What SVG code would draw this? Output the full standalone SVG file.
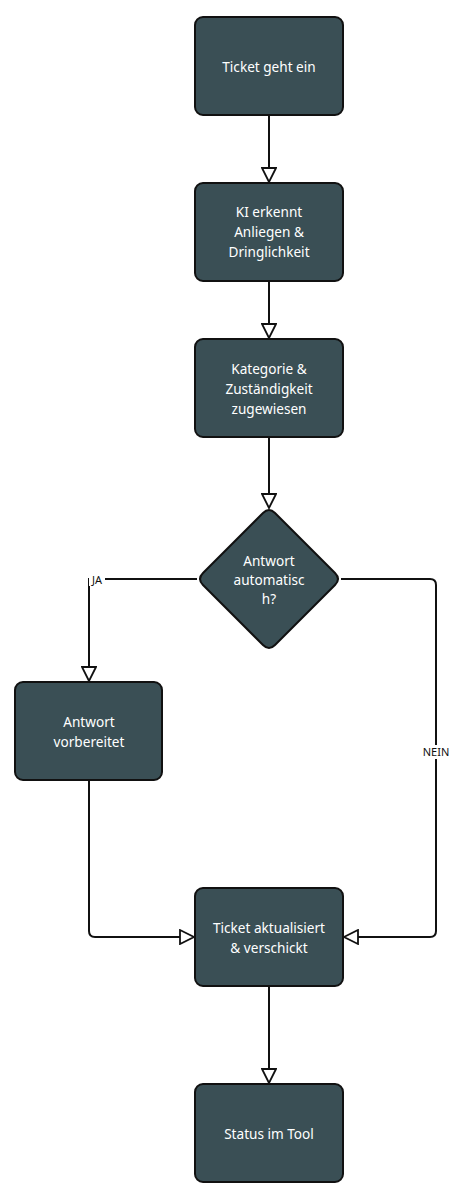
<svg xmlns="http://www.w3.org/2000/svg" width="466" height="1192" viewBox="0 0 466 1192">
<defs>
<style>
.n{fill:#3a4f55;stroke:#111;stroke-width:2}
.t{font-family:"Noto Sans","Open Sans",sans-serif;font-size:13.6px;fill:#ffffff;text-anchor:middle}
.e{fill:none;stroke:#111;stroke-width:2}
.l{font-family:"Noto Sans","Open Sans",sans-serif;font-size:11px;fill:#111;text-anchor:middle}
</style>
<marker id="a" viewBox="0 0 16 16" refX="15" refY="8" markerWidth="16" markerHeight="16" markerUnits="userSpaceOnUse" orient="auto">
<path d="M1,1 L15,8 L1,15 Z" fill="#fff" stroke="#111" stroke-width="1.8"/>
</marker>
</defs>
<rect width="466" height="1192" fill="#fff"/>
<g id="connectors">
<path class="e" d="M269,116 V182" marker-end="url(#a)"/>
<path class="e" d="M269,282 V338" marker-end="url(#a)"/>
<path class="e" d="M269,438 V508" marker-end="url(#a)"/>
<path class="e" d="M197,579 H89 V681" marker-end="url(#a)"/>
<path class="e" d="M341,579 H430 Q436,579 436,585 V931 Q436,937 430,937 H344" marker-end="url(#a)"/>
<path class="e" d="M89,781 V931 Q89,937 95,937 H194" marker-end="url(#a)"/>
<path class="e" d="M269,987 V1083" marker-end="url(#a)"/>
<rect x="89" y="573" width="16" height="13" fill="#fff"/>
<text class="l" x="97" y="584">JA</text>
<rect x="422" y="745" width="28" height="14" fill="#fff"/>
<text class="l" x="436" y="756">NEIN</text>
</g>
<g id="n1"><rect class="n" x="195" y="17" width="148" height="98" rx="8"/><text class="t" x="269" y="72">Ticket geht ein</text></g>
<g id="n2"><rect class="n" x="195" y="183" width="148" height="98" rx="8"/><text class="t" x="269" y="217">KI erkennt</text><text class="t" x="269" y="237">Anliegen &amp;</text><text class="t" x="269" y="257">Dringlichkeit</text></g>
<g id="n3"><rect class="n" x="195" y="339" width="148" height="98" rx="8"/><text class="t" x="269" y="374">Kategorie &amp;</text><text class="t" x="269" y="394">Zuständigkeit</text><text class="t" x="269" y="414">zugewiesen</text></g>
<g id="n4"><path class="n" d="M263,513 Q269,507 275,513 L335,573 Q341,579 335,585 L275,645 Q269,651 263,645 L203,585 Q197,579 203,573 Z"/><text class="t" x="269" y="566">Antwort</text><text class="t" x="269" y="585">automatisc</text><text class="t" x="269" y="604">h?</text></g>
<g id="n5"><rect class="n" x="15" y="682" width="147" height="98" rx="8"/><text class="t" x="89" y="727">Antwort</text><text class="t" x="89" y="747">vorbereitet</text></g>
<g id="n6"><rect class="n" x="195" y="888" width="148" height="98" rx="8"/><text class="t" x="269" y="933">Ticket aktualisiert</text><text class="t" x="269" y="953">&amp; verschickt</text></g>
<g id="n7"><rect class="n" x="195" y="1084" width="148" height="98" rx="8"/><text class="t" x="269" y="1139">Status im Tool</text></g>
</svg>
